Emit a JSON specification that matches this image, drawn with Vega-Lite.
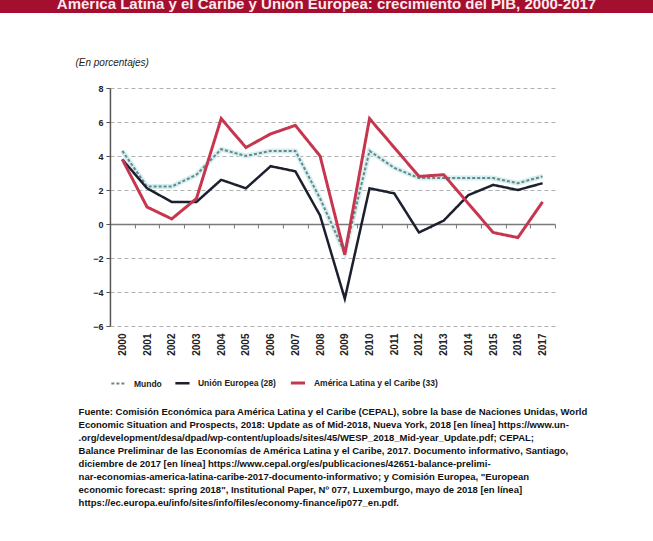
{
  "$schema": "https://vega.github.io/schema/vega-lite/v6.json",
  "padding": 0,
  "background": "white",
  "spacing": 44,
  "center": true,
  "config": {"font": "Liberation Sans", "view": {"stroke": null}},
  "resolve": {"scale": {"color": "independent", "strokeDash": "independent", "strokeWidth": "independent"}, "legend": {"color": "independent", "strokeDash": "independent", "strokeWidth": "independent"}},
  "vconcat": [
    {
      "width": 665,
      "height": 13,
      "view": {"fill": "#a50f2f", "stroke": null},
      "data": {"values": [{"titulo": "América Latina y el Caribe y Unión Europea: crecimiento del PIB, 2000-2017"}]},
      "mark": {"type": "text", "color": "#fbe9ee", "fontWeight": "bold", "fontSize": 15, "baseline": "alphabetic", "dy": 2.5, "dx": -6, "clip": true},
      "encoding": {"text": {"field": "titulo"}}
    },
    {
      "spacing": 18,
      "center": true,
      "resolve": {"scale": {"color": "independent", "strokeDash": "independent", "strokeWidth": "independent"}, "legend": {"color": "independent", "strokeDash": "independent", "strokeWidth": "independent"}},
      "vconcat": [
        {
          "width": 445,
          "height": 238,
          "data": {
            "values": [
              {"anio": "2000", "serie": "Mundo", "valor": 4.3},
              {"anio": "2001", "serie": "Mundo", "valor": 2.2},
              {"anio": "2002", "serie": "Mundo", "valor": 2.2},
              {"anio": "2003", "serie": "Mundo", "valor": 2.9},
              {"anio": "2004", "serie": "Mundo", "valor": 4.4},
              {"anio": "2005", "serie": "Mundo", "valor": 4.0},
              {"anio": "2006", "serie": "Mundo", "valor": 4.3},
              {"anio": "2007", "serie": "Mundo", "valor": 4.3},
              {"anio": "2008", "serie": "Mundo", "valor": 1.5},
              {"anio": "2009", "serie": "Mundo", "valor": -1.7},
              {"anio": "2010", "serie": "Mundo", "valor": 4.3},
              {"anio": "2011", "serie": "Mundo", "valor": 3.3},
              {"anio": "2012", "serie": "Mundo", "valor": 2.7},
              {"anio": "2013", "serie": "Mundo", "valor": 2.7},
              {"anio": "2014", "serie": "Mundo", "valor": 2.7},
              {"anio": "2015", "serie": "Mundo", "valor": 2.7},
              {"anio": "2016", "serie": "Mundo", "valor": 2.4},
              {"anio": "2017", "serie": "Mundo", "valor": 2.8},
              {"anio": "2000", "serie": "Unión Europea (28)", "valor": 3.8},
              {"anio": "2001", "serie": "Unión Europea (28)", "valor": 2.1},
              {"anio": "2002", "serie": "Unión Europea (28)", "valor": 1.3},
              {"anio": "2003", "serie": "Unión Europea (28)", "valor": 1.3},
              {"anio": "2004", "serie": "Unión Europea (28)", "valor": 2.6},
              {"anio": "2005", "serie": "Unión Europea (28)", "valor": 2.1},
              {"anio": "2006", "serie": "Unión Europea (28)", "valor": 3.4},
              {"anio": "2007", "serie": "Unión Europea (28)", "valor": 3.1},
              {"anio": "2008", "serie": "Unión Europea (28)", "valor": 0.5},
              {"anio": "2009", "serie": "Unión Europea (28)", "valor": -4.4},
              {"anio": "2010", "serie": "Unión Europea (28)", "valor": 2.1},
              {"anio": "2011", "serie": "Unión Europea (28)", "valor": 1.8},
              {"anio": "2012", "serie": "Unión Europea (28)", "valor": -0.5},
              {"anio": "2013", "serie": "Unión Europea (28)", "valor": 0.2},
              {"anio": "2014", "serie": "Unión Europea (28)", "valor": 1.7},
              {"anio": "2015", "serie": "Unión Europea (28)", "valor": 2.3},
              {"anio": "2016", "serie": "Unión Europea (28)", "valor": 2.0},
              {"anio": "2017", "serie": "Unión Europea (28)", "valor": 2.4},
              {"anio": "2000", "serie": "América Latina y el Caribe (33)", "valor": 3.8},
              {"anio": "2001", "serie": "América Latina y el Caribe (33)", "valor": 1.0},
              {"anio": "2002", "serie": "América Latina y el Caribe (33)", "valor": 0.3},
              {"anio": "2003", "serie": "América Latina y el Caribe (33)", "valor": 1.5},
              {"anio": "2004", "serie": "América Latina y el Caribe (33)", "valor": 6.2},
              {"anio": "2005", "serie": "América Latina y el Caribe (33)", "valor": 4.5},
              {"anio": "2006", "serie": "América Latina y el Caribe (33)", "valor": 5.3},
              {"anio": "2007", "serie": "América Latina y el Caribe (33)", "valor": 5.8},
              {"anio": "2008", "serie": "América Latina y el Caribe (33)", "valor": 4.0},
              {"anio": "2009", "serie": "América Latina y el Caribe (33)", "valor": -1.8},
              {"anio": "2010", "serie": "América Latina y el Caribe (33)", "valor": 6.2},
              {"anio": "2011", "serie": "América Latina y el Caribe (33)", "valor": 4.5},
              {"anio": "2012", "serie": "América Latina y el Caribe (33)", "valor": 2.8},
              {"anio": "2013", "serie": "América Latina y el Caribe (33)", "valor": 2.9},
              {"anio": "2014", "serie": "América Latina y el Caribe (33)", "valor": 1.2},
              {"anio": "2015", "serie": "América Latina y el Caribe (33)", "valor": -0.5},
              {"anio": "2016", "serie": "América Latina y el Caribe (33)", "valor": -0.8},
              {"anio": "2017", "serie": "América Latina y el Caribe (33)", "valor": 1.3}
            ]
          },
          "encoding": {
            "x": {
              "field": "anio",
              "type": "ordinal",
              "scale": {"type": "point", "padding": 0.5},
              "axis": null
            },
            "y": {
              "field": "valor",
              "type": "quantitative",
              "scale": {"domain": [-6, 8], "nice": false},
              "axis": {
                "values": [-6, -4, -2, 0, 2, 4, 6, 8],
                "labelOverlap": false,
                "title": "(En porcentajes)",
                "titleAngle": 0,
                "titleAlign": "left",
                "titleBaseline": "alphabetic",
                "titleX": -35,
                "titleY": -23,
                "titleFontStyle": "italic",
                "titleFontWeight": "normal",
                "titleFontSize": 10,
                "titleColor": "#222",
                "grid": true,
                "gridDash": {"condition": {"test": "datum.value === 0", "value": []}, "value": [4, 3]},
                "gridColor": {"condition": {"test": "datum.value === 0", "value": "#7a7a7a"}, "value": "#b0b0b0"},
                "gridWidth": {"condition": {"test": "datum.value === 0", "value": 1.5}, "value": 1},
                "domain": true,
                "domainColor": "#555",
                "domainWidth": 1.5,
                "ticks": true,
                "tickSize": 4,
                "tickColor": "#555",
                "labelFontWeight": "bold",
                "labelFontSize": 9,
                "labelColor": "#222",
                "labelPadding": 3
              }
            }
          },
          "resolve": {"axis": {"x": "independent"}},
          "layer": [
            {
              "transform": [{"filter": "datum.serie === 'Mundo'"}],
              "mark": {"type": "line", "color": "#d3f0f0", "strokeWidth": 5},
              "encoding": {
                "x": {
                  "field": "anio",
                  "type": "ordinal",
                  "axis": {"orient": "top", "offset": -136, "title": null, "labels": false, "domain": false, "grid": false, "ticks": true, "tickSize": -4, "tickOffset": 12.36, "tickColor": "#777", "tickWidth": 1}
                }
              }
            },
            {
              "mark": {"type": "line"},
              "encoding": {
                "x": {
                  "field": "anio",
                  "type": "ordinal",
                  "axis": {"title": null, "labelAngle": -90, "labelFontWeight": "bold", "labelFontSize": 10, "labelColor": "#222", "domain": false, "ticks": false, "grid": false, "labelPadding": 7}
                },
                "color": {
                  "field": "serie",
                  "type": "nominal",
                  "scale": {"domain": ["Mundo", "Unión Europea (28)", "América Latina y el Caribe (33)"], "range": ["#6b8589", "#1b1f2e", "#c7364f"]},
                  "legend": {"title": null, "orient": "bottom", "direction": "horizontal", "labelFontSize": 8.5, "labelFontWeight": "bold", "labelColor": "#222", "symbolType": "stroke", "symbolSize": 200, "columnPadding": 8, "labelOffset": 7, "offset": 18}
                },
                "strokeDash": {
                  "field": "serie",
                  "type": "nominal",
                  "scale": {"domain": ["Mundo", "Unión Europea (28)", "América Latina y el Caribe (33)"], "range": [[3, 2], [1, 0], [1, 0]]},
                  "legend": {"title": null, "orient": "bottom", "direction": "horizontal", "labelFontSize": 8.5, "labelFontWeight": "bold", "labelColor": "#222", "symbolType": "stroke", "symbolSize": 200, "columnPadding": 8, "labelOffset": 7, "offset": 18}
                },
                "strokeWidth": {
                  "field": "serie",
                  "type": "nominal",
                  "scale": {"domain": ["Mundo", "Unión Europea (28)", "América Latina y el Caribe (33)"], "range": [2, 3, 1.3]},
                  "legend": {"title": null, "orient": "bottom", "direction": "horizontal", "labelFontSize": 8.5, "labelFontWeight": "bold", "labelColor": "#222", "symbolType": "stroke", "symbolSize": 200, "columnPadding": 8, "labelOffset": 7, "offset": 18}
                }
              }
            }
          ]
        },
        {
          "width": 10,
          "height": 1,
          "data": {"values": [{}]},
          "mark": {"type": "rule", "opacity": 0},
          "encoding": {},
          "title": {
            "text": [
              "Fuente:  Comisión Económica para América Latina y el Caribe (CEPAL), sobre la base de Naciones Unidas, World",
              "\u00a0\u00a0\u00a0\u00a0\u00a0\u00a0\u00a0\u00a0\u00a0\u00a0\u00a0\u00a0\u00a0\u00a0\u00a0Economic Situation and Prospects, 2018: Update as of Mid-2018, Nueva York, 2018 [en línea] https://www.un-",
              "\u00a0\u00a0\u00a0\u00a0\u00a0\u00a0\u00a0\u00a0\u00a0\u00a0\u00a0\u00a0\u00a0\u00a0\u00a0.org/development/desa/dpad/wp-content/uploads/sites/45/WESP_2018_Mid-year_Update.pdf;          CEPAL;",
              "\u00a0\u00a0\u00a0\u00a0\u00a0\u00a0\u00a0\u00a0\u00a0\u00a0\u00a0\u00a0\u00a0\u00a0\u00a0Balance Preliminar de las Economías de América Latina y el Caribe, 2017. Documento informativo, Santiago,",
              "\u00a0\u00a0\u00a0\u00a0\u00a0\u00a0\u00a0\u00a0\u00a0\u00a0\u00a0\u00a0\u00a0\u00a0\u00a0diciembre   de   2017   [en   línea]   https://www.cepal.org/es/publicaciones/42651-balance-prelimi-",
              "\u00a0\u00a0\u00a0\u00a0\u00a0\u00a0\u00a0\u00a0\u00a0\u00a0\u00a0\u00a0\u00a0\u00a0\u00a0nar-economias-america-latina-caribe-2017-documento-informativo;  y  Comisión  Europea,  \"European",
              "\u00a0\u00a0\u00a0\u00a0\u00a0\u00a0\u00a0\u00a0\u00a0\u00a0\u00a0\u00a0\u00a0\u00a0\u00a0economic forecast: spring 2018\", Institutional Paper, Nº 077, Luxemburgo, mayo de 2018 [en línea]",
              "\u00a0\u00a0\u00a0\u00a0\u00a0\u00a0\u00a0\u00a0\u00a0\u00a0\u00a0\u00a0\u00a0\u00a0\u00a0https://ec.europa.eu/info/sites/info/files/economy-finance/ip077_en.pdf."
            ],
            "orient": "top",
            "anchor": "start",
            "font": "Liberation Sans",
            "fontSize": 9.5,
            "fontWeight": "bold",
            "lineHeight": 13,
            "color": "#111",
            "offset": 0,
            "dx": 4
          }
        }
      ]
    }
  ]
}
